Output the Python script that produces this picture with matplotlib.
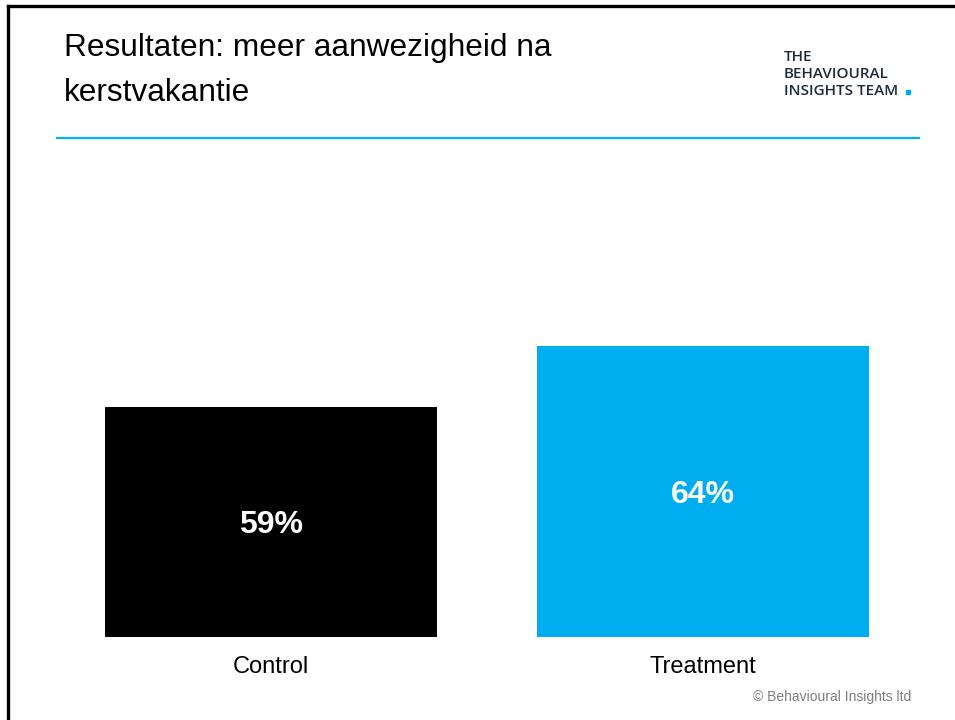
import matplotlib.pyplot as plt
from matplotlib.lines import Line2D
from matplotlib.transforms import blended_transform_factory

plt.rcParams['font.family'] = ['Liberation Sans', 'DejaVu Sans']

groups = ["Control", "Treatment"]
attendance = [59, 64]
bar_colors = ["#000000", "#00AEEF"]

title_lines = ["Resultaten: meer aanwezigheid na", "kerstvakantie"]
logo_lines = ["THE", "BEHAVIOURAL", "INSIGHTS TEAM"]
footer = "\u00a9 Behavioural Insights ltd"

W, H = 955, 720
fig = plt.figure(figsize=(W / 100, H / 100), dpi=100)

def fx(px):
    return px / W

def fy(py):
    return 1 - py / H

# slide frame (left and top edges)
fig.add_artist(Line2D([fx(8), fx(8)], [fy(6), 0], color="black", lw=2.4))
fig.add_artist(Line2D([fx(8), 1], [fy(6), fy(6)], color="black", lw=2.4))

# title and rule
for i, line in enumerate(title_lines):
    fig.text(fx(64), fy(56 + i * 45), line, fontsize=22.8, ha="left",
             va="baseline", color="black")
fig.add_artist(Line2D([fx(57), fx(919)], [fy(138), fy(138)], color="#00B0F0", lw=1.6))

# logo
logo_col = "#1E2B3A"
for i, line in enumerate(logo_lines):
    fig.text(fx(784), fy(61 + i * 17), line, fontsize=11, fontweight="semibold",
             family=["Open Sans", "DejaVu Sans"], color=logo_col,
             ha="left", va="baseline")
fig.add_artist(Line2D([fx(908)], [fy(92)], marker="s", ms=2.2, color="#00AEEF", lw=0))

# bar chart
y0 = 40
ppu = 12.13  # pixels per percentage point
ax = fig.add_axes([fx(40), fy(637), fx(935) - fx(40), fy(180) - fy(637)])
xs = range(len(groups))
ax.bar(xs, [v - y0 for v in attendance], bottom=y0, width=332 / 432, color=bar_colors)
ax.set_xlim((40 - 271) / 432, (935 - 271) / 432)
ax.set_ylim(y0, y0 + (637 - 180) / ppu)
ax.axis("off")

for x, v in zip(xs, attendance):
    # baseline a little below the bar's middle so the digits look centred
    ax.text(x, (y0 + v) / 2 - 11.5 / ppu, f"{v}%", ha="center", va="baseline",
            color="white", fontsize=23, fontweight="bold")

trans = blended_transform_factory(ax.transData, fig.transFigure)
for x, g in zip(xs, groups):
    ax.text(x, fy(673), g, transform=trans, ha="center", va="baseline", fontsize=17)

fig.text(fx(911), fy(701), footer, ha="right", va="baseline", fontsize=10, color="#7F7F7F")

fig.savefig("out.png", dpi=100)
